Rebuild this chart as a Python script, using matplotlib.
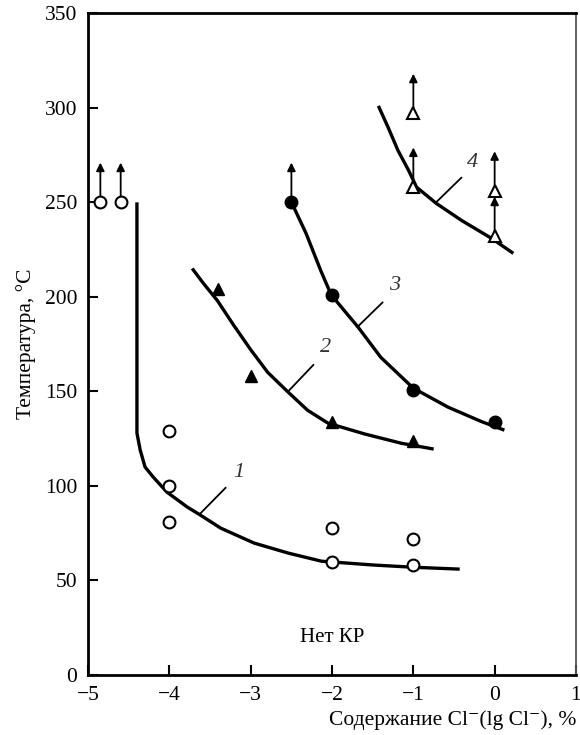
import matplotlib
matplotlib.use("Agg")
import matplotlib.pyplot as plt

plt.rcParams['font.family'] = ['Liberation Serif', 'DejaVu Serif']
plt.rcParams['axes.unicode_minus'] = True

# кривые
c1_x = [-4.40, -4.40, -4.36, -4.30, -4.20, -4.03, -3.78, -3.62, -3.37, -2.96, -2.54, -2.13,
        -1.5, -1.0, -0.43]
c1_y = [250, 128, 119, 110, 104.7, 96.7, 88.8, 84.6, 77.7, 69.8, 64.5, 60.2, 58.2, 57, 56]
c2_x = [-3.72, -3.58, -3.41, -3.21, -3.0, -2.79, -2.54, -2.30, -2.05, -1.6, -1.15, -0.75]
c2_y = [215, 207, 198, 185, 172, 160, 149.6, 140, 133.2, 127.5, 122.6, 119.5]
c3_x = [-2.51, -2.32, -2.14, -2.01, -1.68, -1.40, -1.0, -0.57, -0.16, 0.12]
c3_y = [251, 233.6, 214, 201, 184, 168, 151.7, 141.6, 134, 129.5]
c4_x = [-1.43, -1.31, -1.19, -1.06, -0.96, -0.72, -0.41, -0.04, 0.23]
c4_y = [301, 289.6, 277.5, 267, 258, 249.5, 240.5, 231, 223]

# точки
p1_x = [-4.85, -4.6, -4.0, -4.0, -4.0, -2.0, -2.0, -1.0, -1.0]
p1_y = [250, 250, 129, 100, 81, 78, 60, 72, 58]
p2_x = [-3.4, -3.0, -2.0, -1.0]
p2_y = [204, 158, 134, 124]
p3_x = [-2.5, -2.0, -1.0, 0.0]
p3_y = [250, 201, 151, 134]
p4_x = [-1.0, -1.0, 0.0, 0.0]
p4_y = [297, 258, 256, 232]

# точки со стрелками
arr_x = [-4.85, -4.6, -2.5, -1.0, -1.0, 0.0, 0.0]
arr_y = [250, 250, 250, 297, 258, 256, 232]

# номера кривых: точка на кривой, конец выноски, подпись
lab_txt = ['1', '2', '3', '4']
lab_from = [(-3.63, 85), (-2.54, 150), (-1.69, 184), (-0.72, 250)]
lab_to = [(-3.31, 99), (-2.23, 164), (-1.38, 197), (-0.41, 263)]
lab_pos = [(-3.15, 107), (-2.08, 173), (-1.23, 206), (-0.27, 271)]

fig = plt.figure(figsize=(5.8, 7.35), dpi=100)
ax = fig.add_axes([0.152, 0.0816, 0.841, 0.9004])

for x, y in [(c1_x, c1_y), (c2_x, c2_y), (c3_x, c3_y), (c4_x, c4_y)]:
    ax.plot(x, y, color='black', lw=2.4, solid_capstyle='butt',
            solid_joinstyle='round', zorder=2)

for x0, y0 in zip(arr_x, arr_y):
    ax.annotate('', xy=(x0, y0 + 21), xytext=(x0, y0 + 3),
                arrowprops=dict(arrowstyle='-|>', color='black', lw=1.3,
                                mutation_scale=12, shrinkA=0, shrinkB=0),
                zorder=3)

ax.plot(p1_x, p1_y, 'o', ms=8.5, mfc='white', mec='black', mew=1.5, zorder=4)
ax.plot(p2_x, p2_y, '^', ms=9, mfc='black', mec='black', zorder=4)
ax.plot(p3_x, p3_y, 'o', ms=9, mfc='black', mec='black', zorder=4)
ax.plot(p4_x, p4_y, '^', ms=9, mfc='white', mec='black', mew=1.5, zorder=4)

for t, a, b, p in zip(lab_txt, lab_from, lab_to, lab_pos):
    ax.plot([a[0], b[0]], [a[1], b[1]], color='black', lw=1.3)
    ax.text(p[0], p[1], t, fontsize=16, style='italic', ha='center', va='center',
            color='#333333')

ax.text(-2.0, 20, 'Нет КР', fontsize=15, ha='center', va='center')

ax.set_xlim(-5, 1)
ax.set_ylim(0, 350)
ax.set_xticks([-5, -4, -3, -2, -1, 0, 1])
ax.set_yticks([0, 50, 100, 150, 200, 250, 300, 350])
ax.tick_params(direction='in', length=7, width=1.5, labelsize=15.5, pad=8,
               top=False, right=False)
for s in ['left', 'bottom', 'top']:
    ax.spines[s].set_linewidth(2)
ax.spines['right'].set_linewidth(1.3)
ax.spines['right'].set_color('#555555')

ax.set_xlabel('Содержание Cl⁻(lg Cl⁻), %', fontsize=15.5, loc='right', labelpad=4)
ax.set_ylabel('Температура, °C', fontsize=15.5, labelpad=6)

fig.savefig('out.png', dpi=100)
